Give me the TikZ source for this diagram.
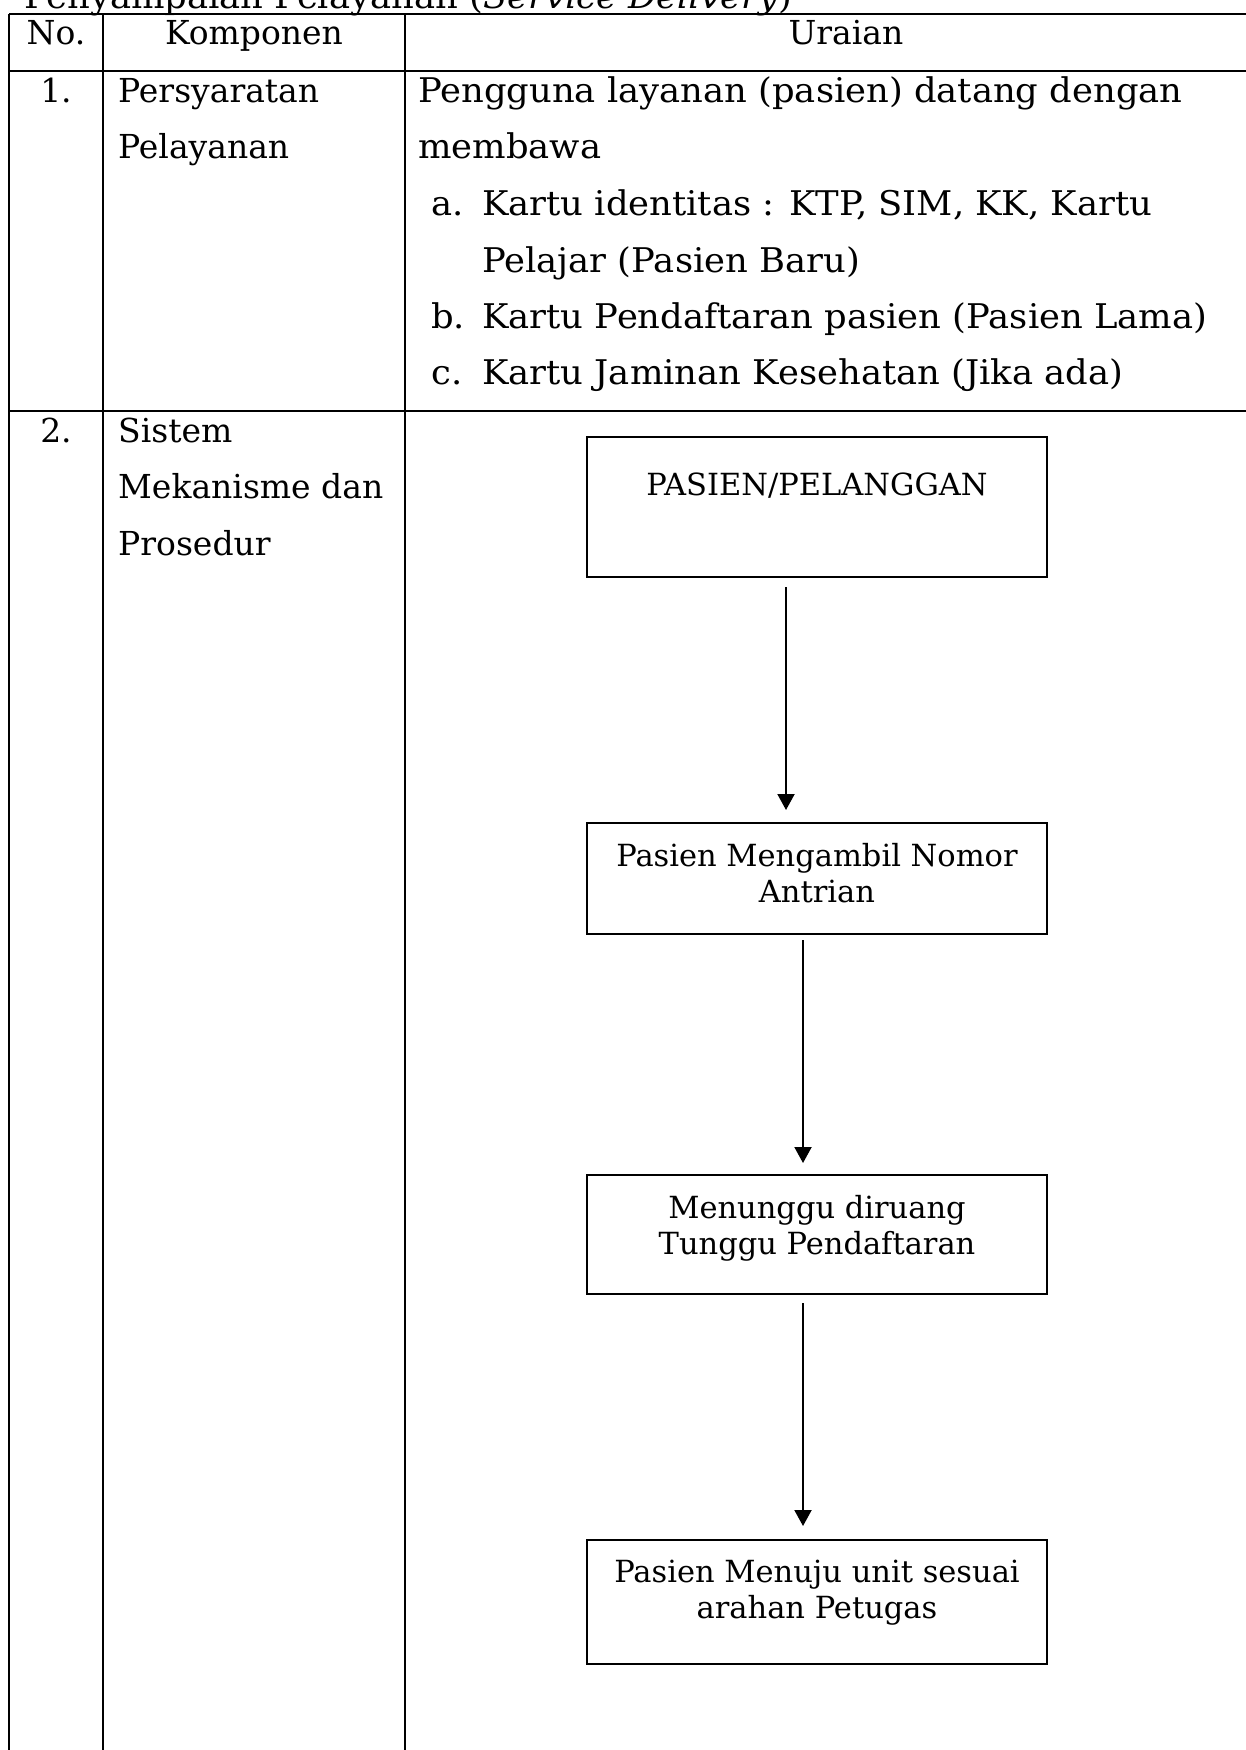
\documentclass[tikz,border=0pt]{standalone}
\usepackage{fontspec}
\setmainfont{DejaVu Serif}
\newfontfamily\widefont[FakeStretch=1.04]{DejaVu Serif}
\usetikzlibrary{arrows.meta}
\begin{document}
\begin{tikzpicture}[x=1pt,y=-1pt,
  tline/.style={line width=2pt},
  ttext/.style={font=\fontsize{33}{57}\selectfont, inner sep=0pt},
  lt/.style={ttext, anchor=base west},
  wt/.style={font=\widefont\fontsize{34}{57}\selectfont, inner sep=0pt, anchor=base west},
  ct/.style={ttext, anchor=base},
  fbox/.style={draw, line width=1.5pt, minimum width=460pt, inner xsep=0pt, inner ysep=0pt, outer sep=0pt, anchor=north, font=\fontsize{30.5}{36}\selectfont},
  arr/.style={line width=2pt, -{Triangle[width=17pt,length=16pt]}}]
\useasboundingbox (0,0) rectangle (1246,1750);
\clip (0,0) rectangle (1246,1750);
% title
\node[wt] (title) at (24,9) {Penyampaian Pelayanan (\textit{Service Delivery})};
% table grid
\draw[tline] (9,14) -- (1300,14);
\draw[tline] (9,71) -- (1300,71);
\draw[tline] (9,411) -- (1300,411);
\draw[tline] (9,14) -- (9,1780);
\draw[tline] (103,14) -- (103,1780);
\draw[tline] (405,14) -- (405,1780);
% header
\node[ct] (hno) at (56,45) {No.};
\node[ct] (hkomp) at (254,45) {Komponen};
\node[ct] (hur) at (846,45) {Uraian};
% row 1
\node[ct] (n1) at (56,103) {1.};
\node[lt] (k1a) at (118,103) {Persyaratan};
\node[lt] (k1b) at (118,158) {Pelayanan};
\node[wt] (u1) at (418,103) {Pengguna layanan (pasien) datang dengan};
\node[wt] (u2) at (418,158) {membawa};
\node[wt] (ia) at (431,215) {a.};
\node[wt] (ua1) at (482,215) {Kartu identitas : KTP, SIM, KK, Kartu};
\node[wt] (ua2) at (482,272) {Pelajar (Pasien Baru)};
\node[wt] (ib) at (431,328) {b.};
\node[wt] (ub) at (482,328) {Kartu Pendaftaran pasien (Pasien Lama)};
\node[wt] (ic) at (431,384) {c.};
\node[wt] (uc) at (482,384) {Kartu Jaminan Kesehatan (Jika ada)};
% row 2
\node[ct] (n2) at (56,442) {2.};
\node[lt] (k2a) at (118,442) {Sistem};
\node[lt] (k2b) at (118,498) {Mekanisme dan};
\node[lt] (k2c) at (118,555) {Prosedur};
% flowchart
\node[fbox, text height=58pt, text depth=82pt] (b1) at (817,437) {PASIEN/PELANGGAN};
\node[fbox, text height=43pt, text depth=68pt] (b2) at (817,823)
  {\begin{tabular}[t]{@{}c@{}}Pasien Mengambil Nomor\\Antrian\end{tabular}};
\node[fbox, text height=43pt, text depth=76pt] (b3) at (817,1175)
  {\begin{tabular}[t]{@{}c@{}}Menunggu diruang\\Tunggu Pendaftaran\end{tabular}};
\node[fbox, text height=42pt, text depth=82pt] (b4) at (817,1540)
  {\begin{tabular}[t]{@{}c@{}}Pasien Menuju unit sesuai\\arahan Petugas\end{tabular}};
\draw[arr] ([xshift=-31pt,yshift=-10pt]b1.south) -- ([xshift=-31pt,yshift=13pt]b2.north);
\draw[arr] ([xshift=-14pt,yshift=-6pt]b2.south) -- ([xshift=-14pt,yshift=12pt]b3.north);
\draw[arr] ([xshift=-14pt,yshift=-9pt]b3.south) -- ([xshift=-14pt,yshift=14pt]b4.north);
\end{tikzpicture}
\end{document}
